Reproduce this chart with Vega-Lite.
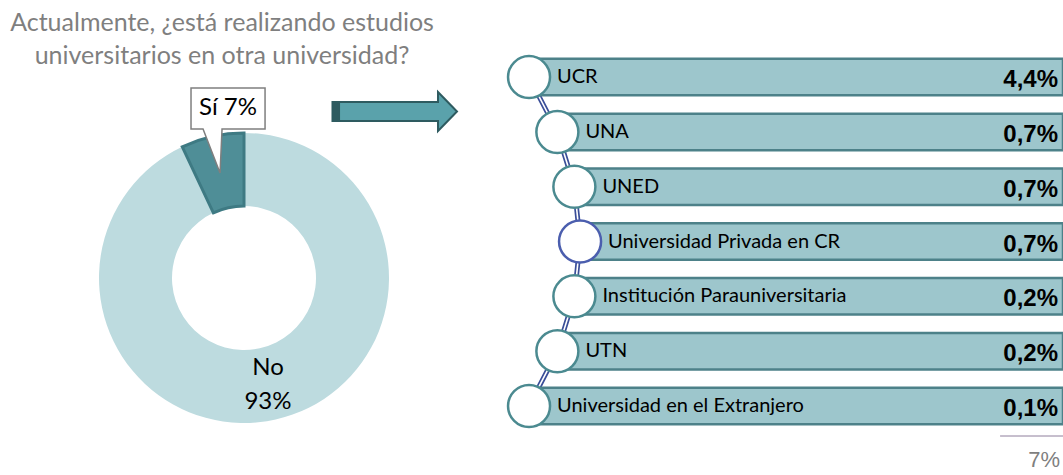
{
  "$schema": "https://vega.github.io/schema/vega-lite/v6.json",
  "padding": 0,
  "spacing": 0,
  "background": "white",
  "config": {
    "view": {"stroke": null},
    "locale": {"number": {"decimal": ",", "thousands": ".", "grouping": [3], "currency": ["", " €"]}}
  },
  "hconcat": [
    {
      "width": 488,
      "height": 475,
      "data": {"values": [
        {"respuesta": "No", "valor": 0.93},
        {"respuesta": "Sí", "valor": 0.07}
      ]},
      "layer": [
        {
          "data": {"values": [{"pregunta": "Actualmente, ¿está realizando estudios universitarios en otra universidad?"}]},
          "mark": {"type": "text", "text": ["Actualmente, ¿está realizando estudios", "universitarios en otra universidad?"], "font": "Lato", "fontSize": 25, "color": "#7f7f7f", "align": "center", "baseline": "alphabetic", "lineHeight": 33},
          "encoding": {
            "x": {"datum": -0.1515, "type": "quantitative", "scale": {"domain": [-1.6806, 1.6806], "nice": false, "zero": false}, "axis": null},
            "y": {"datum": 1.700, "type": "quantitative", "scale": {"domain": [-1.3567, 1.9146], "nice": false, "zero": false}, "axis": null}
          }
        },
        {
          "mark": {"type": "arc", "outerRadius": 145, "innerRadius": 72, "stroke": "#3e7a83"},
          "encoding": {
            "x": {"datum": 0, "type": "quantitative"},
            "y": {"datum": 0, "type": "quantitative"},
            "theta": {"field": "valor", "type": "quantitative", "stack": true},
            "color": {"field": "respuesta", "type": "nominal", "scale": {"domain": ["No", "Sí"], "range": ["#bddbdf", "#4f8e97"]}, "legend": null},
            "strokeWidth": {"condition": {"test": "datum.respuesta === 'Sí'", "value": 3}, "value": 0}
          }
        },
        {
          "transform": [{"filter": "datum.respuesta === 'No'"}],
          "mark": {"type": "text", "font": "Lato", "fontSize": 24, "color": "#000000", "align": "center", "baseline": "middle"},
          "encoding": {
            "x": {"datum": 0.165, "type": "quantitative"},
            "y": {"datum": -0.62, "type": "quantitative"},
            "text": {"field": "respuesta"}
          }
        },
        {
          "transform": [{"filter": "datum.respuesta === 'No'"}],
          "mark": {"type": "text", "font": "Lato", "fontSize": 24, "color": "#000000", "align": "center", "baseline": "middle"},
          "encoding": {
            "x": {"datum": 0.165, "type": "quantitative"},
            "y": {"datum": -0.854, "type": "quantitative"},
            "text": {"field": "valor", "format": ".0%"}
          }
        },
        {
          "transform": [{"filter": "datum.respuesta === 'Sí'"}],
          "mark": {"type": "point", "shape": "M-0.871,-1 L0.871,-1 L0.871,-0.035 L-0.141,-0.035 L-0.188,1 L-0.588,-0.035 L-0.871,-0.035 Z", "size": 7225, "filled": true, "fill": "white", "stroke": "#7f7f7f", "strokeWidth": 1.5, "opacity": 1},
          "encoding": {
            "x": {"datum": -0.110, "type": "quantitative"},
            "y": {"datum": 1.016, "type": "quantitative"}
          }
        },
        {
          "transform": [
            {"filter": "datum.respuesta === 'Sí'"},
            {"calculate": "datum.respuesta + ' ' + format(datum.valor, '.0%')", "as": "etiqueta"}
          ],
          "mark": {"type": "text", "font": "Lato", "fontSize": 24, "color": "#000000", "align": "center", "baseline": "middle"},
          "encoding": {
            "x": {"datum": -0.110, "type": "quantitative"},
            "y": {"datum": 1.171, "type": "quantitative"},
            "text": {"field": "etiqueta"}
          }
        },
        {
          "data": {"values": [{"elemento": "flecha"}]},
          "mark": {"type": "point", "shape": "M-1,-0.152 L0.688,-0.152 L0.688,-0.312 L0.992,0 L0.688,0.312 L0.688,0.152 L-1,0.152 Z", "size": 15625, "filled": true, "fill": "#5aa2ab", "stroke": "#2e5b60", "strokeWidth": 2, "opacity": 1},
          "encoding": {
            "x": {"datum": 1.040, "type": "quantitative"},
            "y": {"datum": 1.147, "type": "quantitative"}
          }
        },
        {
          "data": {"values": [{"elemento": "flecha"}]},
          "mark": {"type": "point", "shape": "M-0.42,-1 L0.42,-1 L0.42,1 L-0.42,1 Z", "size": 361, "filled": true, "fill": "#2e5b60", "strokeWidth": 0, "opacity": 1},
          "encoding": {
            "x": {"datum": 0.634, "type": "quantitative"},
            "y": {"datum": 1.140, "type": "quantitative"}
          }
        }
      ]
    },
    {
      "width": 575,
      "height": 475,
      "data": {"values": [
        {"orden": 1, "universidad": "UCR", "valor": 0.044},
        {"orden": 2, "universidad": "UNA", "valor": 0.007},
        {"orden": 3, "universidad": "UNED", "valor": 0.007},
        {"orden": 4, "universidad": "Universidad Privada en CR", "valor": 0.007},
        {"orden": 5, "universidad": "Institución Parauniversitaria", "valor": 0.002},
        {"orden": 6, "universidad": "UTN", "valor": 0.002},
        {"orden": 7, "universidad": "Universidad en el Extranjero", "valor": 0.001}
      ]},
      "transform": [{"calculate": "(datum.orden - 4) * (datum.orden - 4)", "as": "sangria"}],
      "layer": [
        {
          "mark": {"type": "line", "stroke": "#3a4e98", "strokeWidth": 5},
          "encoding": {
            "x": {"field": "sangria", "type": "quantitative", "scale": {"domain": [16.24, -85.2], "nice": false, "zero": false}, "axis": null},
            "y": {"field": "universidad", "type": "nominal", "sort": null, "axis": null, "scale": {"paddingInner": 0.334, "paddingOuter": 1.025, "align": 0.537}},
            "order": {"field": "orden"}
          }
        },
        {
          "mark": {"type": "line", "stroke": "white", "strokeWidth": 1.6},
          "encoding": {
            "x": {"field": "sangria", "type": "quantitative"},
            "y": {"field": "universidad", "type": "nominal", "sort": null},
            "order": {"field": "orden"}
          }
        },
        {
          "mark": {"type": "rect", "x2": "width", "fill": "#9dc6cc", "stroke": "#4d8189", "strokeWidth": 2.5},
          "encoding": {
            "x": {"field": "sangria", "type": "quantitative"},
            "y": {"field": "universidad", "type": "nominal", "sort": null}
          }
        },
        {
          "mark": {"type": "point", "shape": "circle", "size": 1764, "filled": true, "fill": "white", "strokeWidth": 2.5, "opacity": 1},
          "encoding": {
            "x": {"field": "sangria", "type": "quantitative"},
            "y": {"field": "universidad", "type": "nominal", "sort": null},
            "stroke": {"condition": {"test": "datum.universidad === 'Universidad Privada en CR'", "value": "#4b5eae"}, "value": "#4b8a90"}
          }
        },
        {
          "mark": {"type": "text", "align": "left", "baseline": "middle", "dx": 28, "font": "Lato", "fontSize": 20, "color": "#000000"},
          "encoding": {
            "x": {"field": "sangria", "type": "quantitative"},
            "y": {"field": "universidad", "type": "nominal", "sort": null},
            "text": {"field": "universidad"}
          }
        },
        {
          "mark": {"type": "text", "x": "width", "dx": -5, "dy": 3, "align": "right", "baseline": "middle", "font": "Liberation Sans", "fontWeight": "bold", "fontSize": 24, "color": "#000000"},
          "encoding": {
            "y": {"field": "universidad", "type": "nominal", "sort": null},
            "text": {"field": "valor", "format": ".1%"}
          }
        },
        {
          "transform": [{"aggregate": [{"op": "sum", "field": "valor", "as": "total"}]}],
          "mark": {"type": "rule", "y": "height", "yOffset": -39, "stroke": "#8e7f9c", "strokeWidth": 1},
          "encoding": {
            "x": {"datum": -74.1, "type": "quantitative"},
            "x2": {"datum": -85.2}
          }
        },
        {
          "transform": [{"aggregate": [{"op": "sum", "field": "valor", "as": "total"}]}],
          "mark": {"type": "text", "x": "width", "dx": -3, "y": "height", "dy": -15, "align": "right", "baseline": "middle", "font": "Liberation Sans", "fontSize": 22, "color": "#7f7f7f"},
          "encoding": {
            "text": {"field": "total", "format": ".0%"}
          }
        }
      ]
    }
  ]
}
